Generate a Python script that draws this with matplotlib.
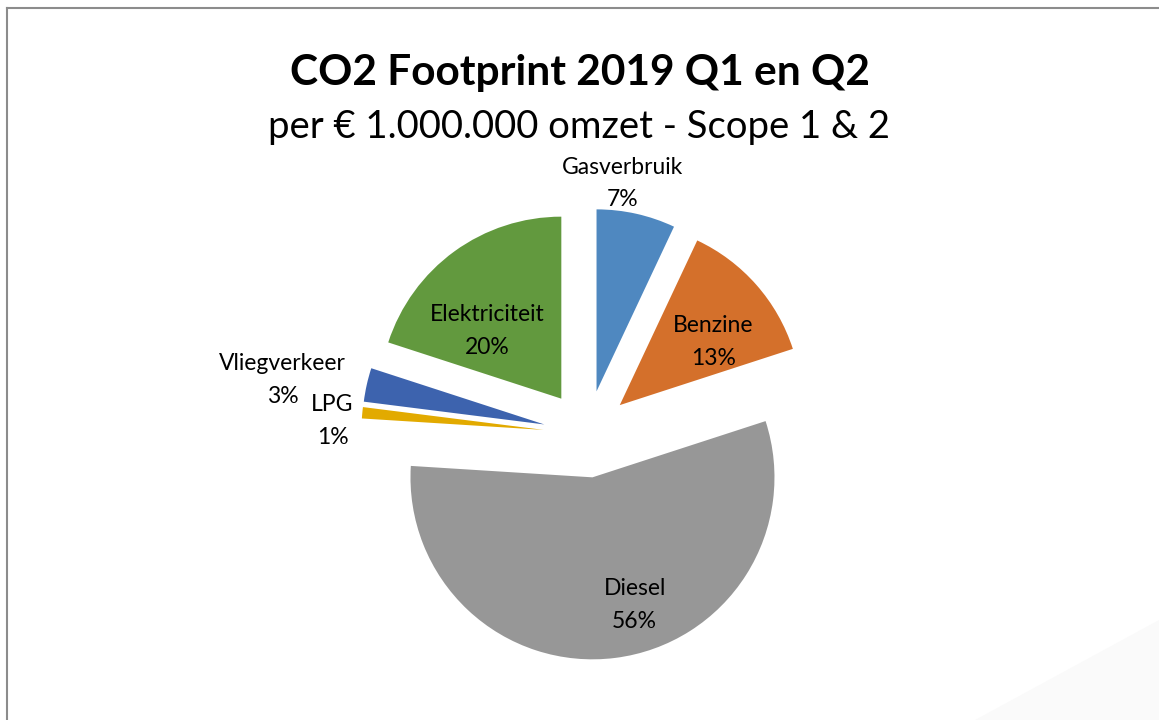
import numpy as np
import matplotlib
matplotlib.use("Agg")
import matplotlib.pyplot as plt
from matplotlib.patches import Polygon
from matplotlib.lines import Line2D

# data
labels = ["Gasverbruik", "Benzine", "Diesel", "LPG", "Vliegverkeer", "Elektriciteit"]
values = [7, 13, 56, 1, 3, 20]
colors = ["#4F88C0", "#D4702B", "#979797", "#E2AA00", "#3D63AE", "#62993E"]

title = "CO2 Footprint 2019 Q1 en Q2"
subtitle = "per \u20ac 1.000.000 omzet - Scope 1 & 2"

# label placement: (distance from pie centre, angle shift in degrees)
label_pos = [(1.39, -4.6), (0.86, 5.3), (0.975, -8.4), (1.40, -2.5), (1.70, -2.5), (0.79, -8.0)]

W, H = 1159, 720
cx, cy, R = 587, 434, 182  # pixel centre and radius

plt.rcParams['font.family'] = ['Lato', 'DejaVu Sans']
fig = plt.figure(figsize=(W / 100, H / 100), dpi=100)
ax = fig.add_axes([0, 0, 1, 1])

ax.pie(values, colors=colors, startangle=90, counterclock=False,
       explode=[0.24] * len(values), radius=1.0,
       wedgeprops=dict(linewidth=0))

ax.set_xlim(-cx / R, (W - cx) / R)
ax.set_ylim(-(H - cy) / R, cy / R)
ax.set_aspect('auto')
ax.axis('off')

total = sum(values)
cum = 0
for lab, v, (dist, shift) in zip(labels, values, label_pos):
    mid = (cum + v / 2) / total * 360 + shift
    cum += v
    a = np.radians(mid)
    x, y = dist * np.sin(a), dist * np.cos(a)
    ax.text(x, y, f"{lab}\n{v}%", ha='center', va='center', fontsize=16.5,
            color='#000000', linespacing=1.7)

fig.text(0.5, 1 - 73 / H, title, ha='center', va='center', fontsize=30.5,
         fontweight='bold', color='#000000')
fig.text(0.5, 1 - 127 / H, subtitle, ha='center', va='center', fontsize=27.5,
         color='#000000')

# faint background shape bottom right
fig.patches.append(Polygon([[975 / W, 0], [1, 0], [1, 100 / H]], closed=True,
                           transform=fig.transFigure, facecolor='#FAFAFA',
                           edgecolor='none', zorder=0))

# chart border (left and top visible)
fig.lines.append(Line2D([7 / W, 7 / W], [0, 1 - 8 / H], transform=fig.transFigure,
                        color='#8C8C8C', linewidth=1.5))
fig.lines.append(Line2D([7 / W, 1], [1 - 8 / H, 1 - 8 / H], transform=fig.transFigure,
                        color='#8C8C8C', linewidth=1.5))

fig.savefig("out.png", dpi=100)
